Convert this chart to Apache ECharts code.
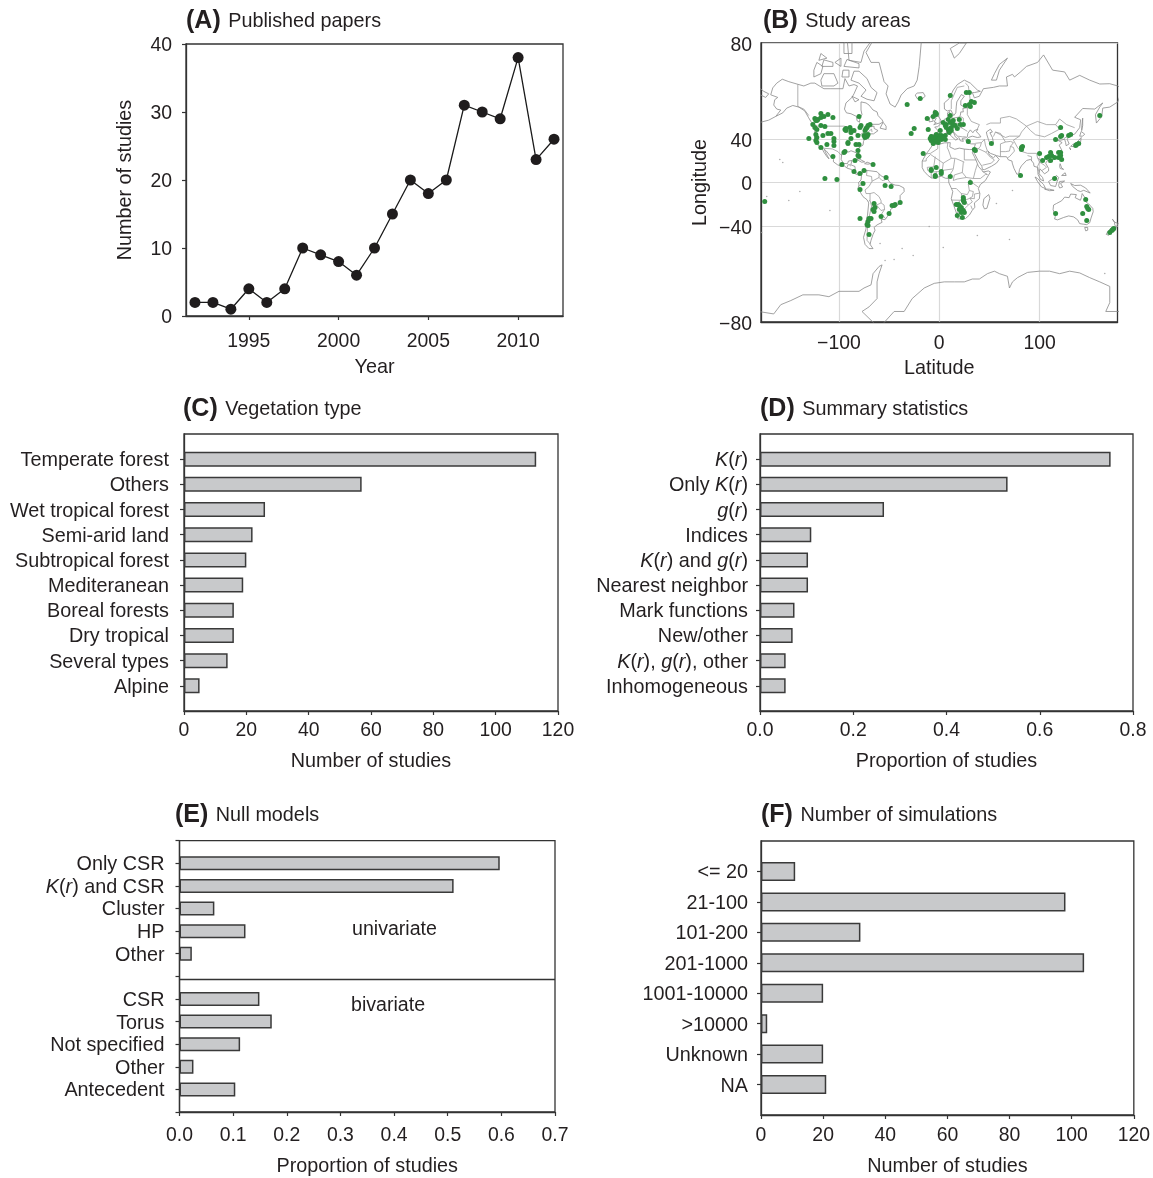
<!DOCTYPE html>
<html><head><meta charset="utf-8">
<style>html,body{margin:0;padding:0;background:#fff}#c{width:1153px;height:1178px}</style>
<script src="https://cdn.jsdelivr.net/npm/echarts@6/dist/echarts.min.js"></script>
</head><body><div id="c"></div>
<script>
// ---------- Panel A
const years=[1992,1993,1994,1995,1996,1997,1998,1999,2000,2001,2002,2003,2004,2005,2006,2007,2008,2009,2010,2011,2012];
const papers=[2,2,1,4,2,4,10,9,8,6,10,15,20,18,20,31,30,29,38,23,26];
const yearTicks=[1995,2000,2005,2010];
// ---------- Panel C
const vegNames=['','Temperate forest','Others','Wet tropical forest','Semi-arid land','Subtropical forest','Mediteranean','Boreal forests','Dry tropical','Several types','Alpine',''];
const vegValues=[null,113,57,26,22,20,19,16,16,14,5,null];
// ---------- Panel D
const statNames=['','K(r)','Only K(r)','g(r)','Indices','K(r) and g(r)','Nearest neighbor','Mark functions','New/other','K(r), g(r), other','Inhomogeneous',''];
const statValues=[null,.752,.531,.266,.110,.103,.103,.074,.070,.055,.055,null];
// ---------- Panel E
const nullNames=['','Only CSR','K(r) and CSR','Cluster','HP','Other','','CSR','Torus','Not specified','Other','Antecedent',''];
const nullValues=[null,.597,.511,.065,.123,.023,null,.149,.172,.113,.026,.104,null];
// ---------- Panel F
const simNames=['','<= 20','21-100','101-200','201-1000','1001-10000','>10000','Unknown','NA',''];
const simValues=[null,11,98,32,104,20,2,20,21,null];
// ---------- Panel B: map axes
const latTicks=[-80,-40,0,40,80];
const lonTicks=[-100,0,100];
// study sites: [longitude, Mercator-projected latitude in degrees of arc]
const sitesNorthAmerica=[[-124,64],[-123,62],[-121,63],[-118,69],[-122,62],[-118,65],[-115,66],[-111,68],[-106,65],[-114,56],[-118,57],[-124,55],[-126,58],[-122,53],[-123,48],[-122,45],[-130,44],[-123,42],[-122,40],[-116,47],[-111,49],[-108,49],[-105,44],[-105,41],[-105,37],[-112,38],[-118,35],[-94,53],[-93,52],[-88,52],[-85,52],[-88,44],[-91,39],[-95,30],[-80,66],[-78,57],[-79,55],[-81,47],[-71,57],[-69,58],[-73,54],[-74,52],[-71,48],[-72,46],[-75,47],[-81,32],[-83,38],[-80,38],[-81,27],[-84,22],[-106,26],[-97,18],[-66,18],[-75,12],[-85,11],[-79,9],[-88,50],[-89,55],[-93,54],[-73,47],[-74,45],[-72,55],[-80,26],[-94,31],[-91,40]];
const sitesOcean=[[-114,4],[-102,3],[-32,78],[-19,84],[-25,54],[-28,49],[-174,-19]];
const sitesEurope=[[-12,64],[-3,69],[-11,53],[-8,46],[-5,44],[-3,45],[0,47],[2,47],[6,47],[-8,42],[-4,41],[-1,43],[2,43],[6,43],[-9,44],[-3,48],[1,52],[-1,40],[-6,39],[-6,45],[-2,42],[0,44],[4,45],[4,60],[7,58],[11,60],[14,62],[9,63],[11,67],[6,57],[12,55],[16,57],[9,53],[12,52],[18,54],[24,58],[21,58],[20,63],[14,58],[7,55],[10,50],[-4,70],[-3,68],[-6,66],[11,87],[27,90],[30,90],[26,77],[31,76],[32,81],[35,80],[30,78],[29,41],[35,33],[36,32],[52,39]];
const sitesAsia=[[82,35],[82,33],[83,36],[81,7],[160,67],[121,55],[116,43],[121,46],[122,47],[129,47],[131,48],[136,37],[139,39],[137,38],[100,29],[119,30],[121,30],[109,26],[107,25],[111,30],[112,27],[115,25],[111,22],[103,22],[119,25],[122,23],[121,27],[115,4]];
const sitesAfrica=[[-16,29],[-8,13],[-4,6],[-3,15],[-8,12],[-4,7],[2,9],[2,11],[11,6],[31,0],[24,-15],[24,-17],[24,-18],[25,-20],[17,-22],[19,-22],[20,-23],[22,-25],[20,-27],[24,-28],[25,-30],[22,-30],[21,-26],[18,-33],[23,-35]];
const sitesOceania=[[146,-17],[147,-24],[148,-26],[149,-27],[143,-31],[116,-31],[147,-38],[170,-50],[172,-48],[174,-46],[173,-47]];
const sitesSouthAmerica=[[-53,5],[-54,-3],[-48,-4],[-79,-7],[-65,-21],[-64,-25],[-65,-29],[-66,-27],[-39,-20],[-44,-22],[-47,-23],[-45,-23],[-50,-31],[-58,-34],[-79,-36],[-70,-36],[-68,-36],[-71,-39],[-72,-42],[-71,-43],[-70,-52],[-76,-1]];
// small oceanic islands: [longitude, Mercator-projected latitude]
const specks=[[-139,-9],[-150,-18],[-109,-28],[-172,-14],[-177,-50],[-59,-61],[-37,-66],[-45,-77],[-54,-78],[-26,-73],[-10,-44],[70,-57],[38,-53],[57,-21],[73,-8],[4,-65],[165,-91],[-159,23],[-156,20]];
// coastlines and borders: [longitude, latitude]
const coastNorthAmerica=[[-168,65.6],[-166,68.3],[-162,70],[-156.5,71.3],[-150,70.5],[-141,69.6],[-135,69],[-128,70],[-124,70],[-115,68],[-108,68],[-100,68],[-96,68],[-94,71.5],[-90,69],[-85,69.5],[-81.5,69],[-85,66],[-87,64.5],[-93,62],[-94.5,59],[-92.5,57],[-88,56.5],[-82.5,55],[-82,52.5],[-79.5,51.5],[-79,54.5],[-77,56],[-78,58.5],[-78,62.5],[-73,62],[-70,61],[-66,58.5],[-62,57.5],[-61,55.5],[-57,53],[-56,51.7],[-60,50.2],[-66,50.2],[-69,48.5],[-65,49],[-65,47.5],[-61,46],[-65.5,43.7],[-70,43.7],[-70,41.7],[-74,40.5],[-75.5,38],[-76,35],[-78,34],[-81,32],[-80.2,27],[-80.5,25.2],[-81.8,26],[-82.8,28.5],[-84,30],[-88,30.3],[-90,29.2],[-94,29.5],[-97.3,27.5],[-97.8,22.5],[-95.5,18.8],[-91.5,18.5],[-90.5,21],[-87,21.5],[-88.2,17.5],[-88.5,15.9],[-84,15.8],[-83.3,14.9],[-83.7,11],[-82,9],[-79.7,9.5],[-77.3,8.6],[-78,8],[-80.2,7.3],[-83,8.3],[-85.7,10],[-87.5,13],[-91.5,14],[-94.5,16.2],[-97,15.8],[-101.5,17.5],[-105.5,20.3],[-105.5,22.5],[-109,26],[-112.5,30],[-114.7,31.5],[-112.5,27.5],[-109.9,23],[-112,25],[-115,29],[-117,32.5],[-120.5,34.5],[-122.5,37.8],[-124.3,40.3],[-124,46],[-122.7,48.5],[-125,50],[-128,52],[-130.5,54.5],[-134,58],[-140,60],[-146,60.8],[-152,59.5],[-156,57],[-163,55],[-158,58.5],[-162,59],[-165,61],[-164,63.5],[-161,64.5],[-168,65.6]];
const coastArcticIslands=[
[[-80,73.7],[-72,71.5],[-68,68.5],[-62,66.5],[-65,63],[-72,63.7],[-78,65],[-73,67.5],[-80,70],[-88,71],[-85,73.7],[-80,73.7]],
[[-117,69],[-105,69],[-101,70],[-105,73],[-115,73],[-118,71],[-117,69]],
[[-125,72],[-118,73],[-116,75],[-122,76],[-125,74],[-125,72]],
[[-90,76.5],[-78,76],[-75,78.5],[-65,81],[-62,83],[-80,83],[-92,81],[-90,76.5]],
[[-95,75],[-80,74.6],[-80,75.7],[-92,76.7],[-95,75]],
[[-117,75],[-106,75],[-106,76],[-115,76.6],[-117,75]],
[[-87,65],[-80,63.5],[-84,62.5],[-87,65]],
[[-97,72],[-90,72],[-90,74],[-96,74],[-97,72]],
[[-95,78],[-87,78],[-87,81],[-95,80],[-95,78]],
[[-104,76],[-98,75],[-98,77],[-104,76]],
[[-120,76.5],[-112,77],[-118,78],[-120,76.5]]];
const coastCaribbeanAtlantic=[
[[-59,47.7],[-53,46.7],[-53,49],[-56,51.5],[-59,47.7]],
[[-85,22],[-80,23],[-74.3,20.2],[-77.5,19.9],[-82,22.3],[-85,22]],
[[-74.4,18.5],[-72,20],[-68.4,18.6],[-71,18],[-74.4,18.5]],
[[-128,50.7],[-125,50],[-123.5,48.4],[-125,48.8],[-128,50.7]],
[[-163,55],[-170,52.8],[-178,51.5]],
[[-24,65.5],[-22,64],[-18,63.5],[-14,65],[-16,66.5],[-22,66.3],[-24,65.5]]];
const coastGreenland=[[-73,78.2],[-68,76],[-60,76],[-55,70.5],[-51,69],[-53,66],[-49,61.5],[-44,60],[-41,62.5],[-38,65.5],[-32,68],[-25,69],[-22,71],[-20,75],[-18,80],[-30,83.5],[-60,82],[-73,78.2]];
const coastSouthAmerica=[[-77.3,8.6],[-75,11],[-72,12],[-71.5,10.8],[-68,11.5],[-62,10.7],[-60,8.5],[-57,6],[-52,4.8],[-50,1],[-48,-1],[-44,-2.6],[-40,-3],[-35.2,-5.5],[-35,-9],[-39,-13],[-39,-18],[-41,-22],[-45,-23.7],[-48.5,-26],[-49,-29],[-52,-32.5],[-54,-34.8],[-58,-34.5],[-57,-37],[-62,-39],[-65,-41],[-64,-43],[-66,-46],[-68,-50],[-69,-52.5],[-66,-55],[-70,-55],[-74,-52.5],[-75.5,-48],[-73,-42],[-73.5,-38],[-71.5,-31],[-70.3,-20],[-72,-17],[-76,-14],[-81,-6],[-80,-2.5],[-80.5,0],[-78,2.5],[-77.5,7],[-77.3,8.6]];
const coastAfrica=[[-6,35.8],[-10,31],[-13,27.5],[-17,21],[-17,14.7],[-15,11],[-11,6.8],[-7.5,4.4],[-3,5],[2,6.3],[6,4.3],[9.5,4],[9.5,0],[11.7,-5],[13.5,-9],[12,-16],[14.5,-22.5],[17,-29],[18.5,-34.2],[22,-34],[26,-34],[30,-31],[32.8,-27],[35.5,-24],[35,-20],[40,-16],[40.5,-11],[39,-6],[41,-2],[46,2],[51,10.5],[49,11.5],[44,10.5],[43,12],[39,16],[37,21],[35,25],[33,28.5],[32.5,30],[34.2,31.3],[30,31.3],[25,31.7],[20,32.5],[20,31],[15.5,31.5],[10.5,33.5],[11,37],[5,36.8],[-1,35.5],[-6,35.8]];
const coastEurasia=[[-5.5,36],[-9,37],[-9.3,39],[-9,43],[-2,43.4],[-1.2,46],[-4.5,48.4],[-1.5,48.7],[1.5,50.5],[4,52],[5,53.3],[8.5,54],[8.2,57],[10.5,57.7],[10,55],[12,54],[14,54],[19,54.5],[21,55.5],[21.5,57.5],[24,57.5],[23.5,59.3],[28,59.7],[30,60],[25,60],[21.5,61],[21.5,63],[25,65],[22,65.7],[17.5,62.5],[17,60.5],[18.5,59.5],[16.5,57],[14.5,55.5],[12.8,55.5],[11.5,58.5],[8,58],[5.2,59],[5,62],[10,64],[14,67.5],[18,69.5],[25,71],[31,70],[38,67.5],[41,67],[35,66.5],[33,66.5],[35,64.3],[40,65],[44,68],[54,68.5],[60,69],[68,69],[67,72],[73,72.8],[75,72],[81,73.5],[87,75],[98,76],[104,77.7],[113,74],[125,73.5],[130,71],[140,72.5],[150,71],[160,69.7],[170,69.8],[178,69],[180,68.5],[180,65],[178,62.5],[170,60],[163,59.5],[162,55],[156.7,51],[155.7,56],[160,60],[163,62],[155,59],[143,59.3],[135,54.5],[141,53],[140,48],[135,43.5],[130.5,42.5],[127.5,39.7],[129.5,36],[126.5,34.5],[126,37],[125,39.7],[121.5,39],[118,39],[119,37.5],[122.5,37],[119.5,35],[122,31],[121.5,28],[117.5,24],[113,22],[110,21],[108,21.5],[106,19],[109,14],[109,11.5],[105,8.6],[105,10],[100.5,13.5],[99.3,9],[103,5],[104,1.5],[101,3],[98.5,8],[98,15],[94.5,16],[94,19],[91,22.5],[87,21.5],[82,16.5],[80,13],[79.5,9.5],[77.5,8],[74.5,14],[72.8,19],[72.5,21],[69,22],[67,25],[61,25],[57,26],[56.5,27],[51,28],[48.5,30],[48,29.5],[50,26.5],[51.5,25],[54,24],[56.3,26],[56.5,24.5],[59.8,22.5],[57,19],[52,16],[45,12.7],[43,13],[42.5,16],[39,21],[35,28],[34.5,31.5],[36,36],[32,36],[28,36.7],[26.5,39],[29,41],[33,42],[38,41],[41.5,41.5],[39,44],[37,45.2],[38.5,47],[35,46],[33.5,44.5],[31,46.5],[28.5,44],[28,41.5],[26,40.7],[23,40.3],[24,38],[22.5,36.5],[21,38.5],[19.5,41],[19,42],[14,45.2],[12.5,45],[12.5,44],[16,41.5],[18.5,40],[16.5,39],[15.7,38],[15.5,40],[12,42],[9,44.3],[5,43.3],[3,43],[3,41.8],[0,39.5],[-2,37],[-5.5,36]];
const coastChukotka=[[-180,68.5],[-175,67],[-170,66],[-173,64.5],[-178,65.5],[-180,65]];
const coastEurasiaIslands=[
[[47,45],[51,47],[53,45],[50.5,44.5],[53,41],[54,37],[50,37.3],[49,39.5],[47.5,43],[47,45]],
[[-5.5,50],[1.3,51.2],[1.7,52.8],[0,53.5],[-2,56],[-2,57.7],[-5,58.6],[-6,56.5],[-3,54],[-4.5,53.2],[-5,51.7],[-3,51.3],[-5.5,50]],
[[-6,52.2],[-10,51.7],[-10,54],[-7.5,55.3],[-5.7,54.5],[-6,52.2]],
[[15,77],[11,79],[20,80],[27,80],[20,78],[15,77]],
[[52,71],[55,73],[60,75.5],[68,77],[60,74],[57,71],[52,71]],
[[142,46],[143,49.5],[143,54],[142,53],[142,48],[142,46]],
[[131,34],[135,33.7],[140,35],[141,38],[141.5,41],[140,40],[137,37],[133,35.5],[131,34]],
[[140,42],[141.5,45.4],[145,43.5],[143,42],[140,42]],
[[130,33],[131.5,33],[131,31],[130,32],[130,33]],
[[120,23],[121.5,25],[121,22],[120,23]],
[[109,20],[111,20],[110,18.3],[109,20]],
[[80,9.5],[82,7.5],[80.5,6],[80,9.5]],
[[120.5,18.5],[122.2,18],[122,14.5],[124,13],[120.7,13.8],[120,16],[120.5,18.5]],
[[122,7],[125.5,9.7],[126.5,7],[125,5.7],[122,7]],
[[109,1],[112,3],[117,7],[119,5],[117.5,1],[116,-4],[111,-3],[109,1]],
[[95.5,5.5],[98,4],[104,-2],[106,-6],[102,-4.5],[98,1],[95.5,5.5]],
[[105,-6.5],[110,-6.7],[114.5,-7.8],[110,-8.2],[105,-6.5]],
[[120,1],[125,1.5],[121,-1],[123,-4.5],[120,-5.5],[119,-3],[120,1]],
[[131,-1],[135,-3],[141,-2.7],[146,-5.5],[150.5,-10.5],[144,-7.8],[141,-9],[138,-8],[133,-4],[131,-1]],
[[49.3,-12],[50.5,-15.5],[47.5,-25],[45,-25.5],[43.5,-22],[44.5,-16],[49.3,-12]]];
const coastAustralasia=[
[[114,-22],[113.5,-26],[115.7,-32],[115,-34.3],[118,-35],[124,-33],[129,-31.7],[134,-32.5],[138,-35],[140,-38],[144,-38.5],[147,-38.8],[150,-37.3],[151.3,-33.5],[153.5,-28],[153,-25],[149,-21],[146,-19],[145.3,-15],[142.5,-11],[141.7,-15],[140.7,-17.5],[135.5,-15],[136.7,-12],[131,-11.5],[129.5,-15],[125,-14.5],[122,-18],[117,-20.5],[114,-22]],
[[145,-41],[148,-41],[148,-43],[146,-43.5],[145,-41]],
[[172.7,-34.5],[175,-37],[178.4,-37.7],[176.5,-41],[174.8,-41.3],[175,-39],[173.8,-39.2],[174.7,-37],[172.7,-34.5]],
[[172.7,-40.5],[174.3,-41.7],[171,-45],[169,-46.6],[166.5,-46],[168,-44],[172.7,-40.5]]];
const coastAntarctica=[[-180,-78],[-165,-78.5],[-158,-76.5],[-148,-75.5],[-136,-74],[-120,-74],[-110,-74.5],[-100,-73],[-90,-73],[-80,-73],[-75,-72],[-68,-71],[-66,-67],[-60,-64],[-57,-63.3],[-60,-67],[-62,-70],[-62,-75],[-70,-77],[-77,-78],[-60,-81],[-45,-78],[-35,-78],[-27,-75],[-15,-72],[-5,-70.5],[5,-70],[15,-70],[25,-70],[33,-69],[40,-69],[48,-67],[55,-66],[60,-67],[68,-68],[70,-72],[73,-70],[78,-68.5],[88,-66.5],[100,-66],[110,-66],[120,-67],[130,-66],[140,-66.7],[150,-68.5],[160,-70],[170,-71.5],[170,-76],[166,-78],[180,-78]];
const bordersAmericas=[
[[-123,49],[-95,49],[-89,48],[-84,46.5],[-82.5,43],[-79,43],[-75,45],[-71,45],[-67.5,47],[-67,45]],
[[-141,69.6],[-141,60.3],[-135,59],[-130,55.5]],
[[-117,32.5],[-106.5,31.8],[-101,29.5],[-97.3,26]],
[[-92,14.5],[-91,17.5],[-89,17.5],[-88.5,16]],
[[-72,12],[-72.5,7],[-67.5,6],[-67,1.3],[-70,-4],[-74,-7.5],[-73,-11],[-69,-11],[-65,-10],[-60,-14],[-58,-18],[-58,-20],[-55,-22],[-54.5,-26],[-57.5,-30],[-53.5,-34]],
[[-69,-11],[-69,-17.5],[-70.3,-18.5]],
[[-69,-17.5],[-67.5,-23],[-70,-33],[-71.5,-40],[-72,-50],[-68.5,-52.5]],
[[-67.5,-23],[-62.5,-22],[-58,-27],[-54.5,-26]],
[[-62.5,-22],[-58,-20]],
[[-80,-3.5],[-75,-1],[-78.5,1.5]],
[[-60,8.5],[-60,5],[-57,2],[-54,2.5],[-52,4.5]],
[[-67,1.3],[-60,5]]];
const bordersAfrica=[
[[-1.5,35],[-1.5,32],[-8.7,28],[-8.7,27],[-13,27.5]],
[[-8.7,27],[4,19],[12,23.5],[9.5,30],[8,33],[8.5,37]],
[[-17,21],[-13,21],[-13,23],[-8.7,27]],
[[25,31.7],[25,22],[37,22]],
[[25,20],[16,23.5],[12,23.5]],
[[24,20],[23,10],[27,5],[34,4],[36,12],[38,18]],
[[4,19],[3,12],[14,13.5],[15.5,23]],
[[-12,15],[-5.5,15.5],[-4,25]],
[[-12,15],[-11.5,12],[-8,10],[-8,4.5]],
[[-5.5,10.5],[3,11],[2.5,6.3]],
[[-3,5],[-3,11]],
[[1,6],[1,11]],
[[14,13],[8.5,4.5]],
[[15,7.5],[23,10]],
[[15,7.5],[14,2],[18,3.5],[27,5]],
[[12,-6],[17,-6],[22,-11],[28,-12],[30,-8],[29,-2],[31,3.5]],
[[30,-1],[34,-1],[39,-4.7]],
[[34,4],[41,4],[46,8],[48,8],[43,11]],
[[12,-17.3],[23,-17.5],[22,-11]],
[[20,-18],[20,-28.5],[17,-28.7]],
[[20,-22],[25,-25.5],[29,-22],[25,-17.8]],
[[29,-22],[33,-19],[30.5,-15.5],[25,-17.8]],
[[33,-26],[31.5,-22.5]],
[[30.5,-15.5],[35,-16],[35,-11.5],[40.5,-10.5]],
[[30,-8],[34,-9],[33,-14],[30.5,-15.5]]];
const bordersEurasia=[
[[36,36.5],[42,37],[45,39.5]],
[[42,37],[41,34],[39,32],[36,32.5]],
[[39,32],[46.5,29],[48,30]],
[[45,39.5],[46,35],[48,30]],
[[61,25],[61,36],[66,37.5],[71,38],[74,37],[71,34],[70,30],[66,29.5],[61,29.5]],
[[46.5,29],[51,24.5],[55,22],[52,19],[43,17]],
[[54,41.7],[56,45],[61,44],[66,37.5]],
[[47,50],[51,51],[61,51],[61,54],[70,55],[77,53.5],[87,49],[82,45],[80,42],[70,42],[66,41],[56,45]],
[[87,49],[98,52],[107,50],[116,50],[120,47],[112,44],[105,41.5],[96,43],[91,46],[87,49]],
[[135,48],[127,50],[120,53.5],[116,50]],
[[130.5,42.5],[127,41.5],[124,40]],
[[80,42],[74,39],[78,33],[81,30],[88,28],[97,28],[98,24],[101,21.5],[106,23],[108,21.5]],
[[71,34],[74,33],[75,30],[70,25],[68,24]],
[[88,26],[92,25],[92,21]],
[[98,24],[100,20],[98,16],[99,11]],
[[100,20],[105,17],[107,15],[102.5,12]],
[[-1.5,43.3],[3,42.5]],
[[2.5,51],[6,49.5],[8,49],[7.5,47.5],[7,44]],
[[14,54],[15,51],[24,50.5],[24,54],[21,55]],
[[28,59.7],[28,56],[32,52],[40,50],[38,47]],
[[28,60.5],[31,63],[29,69],[26,70]],
[[12,59],[12,63],[18,68.5],[25,69]],
[[7,44],[7.5,46],[13.5,46.5]],
[[8,47.5],[17,48],[23,48]],
[[19,42],[23,41.5],[26.5,41.5]],
[[22,48],[28,45.5]],
[[24,50.5],[22,48]]];

// ---------- drawing
const FONT='Liberation Sans', INK='#231f20', FRAME='#333333', FS=19.4, FSN=19.8;
const merc=lat=>Math.log(Math.tan(Math.PI/4+lat*Math.PI/360))*180/Math.PI;
const invMerc=y=>(2*Math.atan(Math.exp(y*Math.PI/180))-Math.PI/2)*180/Math.PI;
const project=line=>line.map(p=>[p[0],merc(p[1])]);
const join=lines=>{const out=[];lines.forEach(l=>{project(l).forEach(p=>out.push(p));out.push([NaN,NaN]);});return out;};
const minus=v=>String(v).replace('-','\u2212');
const italicise=s=>s.replace(/\b(K|g)\(r\)/g,'{i|$1}({i|r})');
const richItalic={i:{fontStyle:'italic',fontFamily:FONT,fontSize:FSN,color:INK}};

const boxes=[
 {left:186,top:44,width:377,height:272},
 {left:761,top:43,width:356.5,height:279},
 {left:184,top:434,width:374,height:277},
 {left:760,top:434,width:373,height:277},
 {left:179.5,top:840.7,width:375.5,height:273.3},
 {left:761,top:841,width:373,height:276}];
const heads=[['(A)','Published papers',186,9],['(B)','Study areas',763,9],['(C)','Vegetation type',183,397],['(D)','Summary statistics',760,397],['(E)','Null models',175,803],['(F)','Number of simulations',761,803]];
const axisLine={show:true,onZero:false,lineStyle:{color:FRAME,width:1.3}};
const tick=(extra)=>Object.assign({show:true,length:4,inside:false,lineStyle:{color:FRAME,width:1.2}},extra||{});
const nameStyle={fontSize:FSN,color:INK,fontFamily:FONT};
const valX=(g,max,interval,name,gap,margin,digits)=>({type:'value',gridIndex:g,min:0,max,interval,name,nameLocation:'middle',nameGap:gap,
  nameTextStyle:nameStyle,axisLine,axisTick:tick(),splitLine:{show:false},
  axisLabel:{fontSize:FS,color:INK,fontFamily:FONT,margin,formatter:v=>digits?v.toFixed(digits):String(v)}});
const catY=(g,names,margin,allTicks)=>({type:'category',gridIndex:g,data:names,inverse:true,boundaryGap:false,axisLine,
  axisTick:tick({alignWithLabel:true,interval:allTicks?0:((i,v)=>v!=='')}),splitLine:{show:false},
  axisLabel:{interval:0,fontSize:FSN,color:INK,fontFamily:FONT,margin,padding:[3,0,0,0],rich:richItalic,formatter:v=>italicise(v)}});
const bar=(g,values,w,extra)=>Object.assign({type:'bar',xAxisIndex:g,yAxisIndex:g,data:values,barWidth:w,silent:true,
  itemStyle:{color:'#c8c9cb',borderColor:'#3a3a3a',borderWidth:1.5}},extra||{});
const sites=[].concat(sitesNorthAmerica,sitesOcean,sitesEurope,sitesAsia,sitesAfrica,sitesOceania,sitesSouthAmerica);
const coastLines=[coastNorthAmerica,coastGreenland,coastSouthAmerica,coastAfrica,coastEurasia,coastChukotka,coastAntarctica].concat(coastArcticIslands,coastCaribbeanAtlantic,coastEurasiaIslands,coastAustralasia);
const borderLines=[].concat(bordersAmericas,bordersAfrica,bordersEurasia);

const option={
 animation:false,backgroundColor:'#fff',textStyle:{fontFamily:FONT},
 title:heads.map(h=>({left:h[2],top:h[3],padding:0,text:'{b|'+h[0]+'}{n| '+h[1]+'}',textStyle:{fontWeight:'normal',rich:{
   b:{fontFamily:FONT,fontWeight:'bold',fontSize:25,color:INK},
   n:{fontFamily:FONT,fontWeight:'normal',fontSize:FSN,color:INK,padding:[0,0,0,2]}}}})),
 grid:boxes.map(b=>Object.assign({show:true,borderColor:FRAME,borderWidth:1.3,containLabel:false},b)),
 graphic:[
  {type:'text',left:352,top:920,style:{text:'univariate',font:'19.6px "Liberation Sans"',fill:INK}},
  {type:'text',left:351,top:996,style:{text:'bivariate',font:'19.6px "Liberation Sans"',fill:INK}}],
 xAxis:[
  {type:'value',gridIndex:0,min:1991.5,max:2012.5,name:'Year',nameLocation:'middle',nameGap:42,
   nameTextStyle:nameStyle,axisLine,splitLine:{show:false},
   axisTick:tick({customValues:yearTicks}),
   axisLabel:{fontSize:FS,color:INK,fontFamily:FONT,margin:16,customValues:yearTicks,formatter:v=>String(v)}},
  {type:'value',gridIndex:1,min:-177.7,max:177.7,name:'Latitude',nameLocation:'middle',nameGap:37,
   nameTextStyle:nameStyle,axisLine,
   axisTick:{show:false,customValues:lonTicks},
   splitLine:{show:true,lineStyle:{color:'#d9d9d9',width:1.2}},
   axisLabel:{fontSize:FS,color:INK,fontFamily:FONT,margin:12,customValues:lonTicks,formatter:v=>minus(v)}},
  valX(2,120,20,'Number of studies',41,10,0),
  valX(3,0.8,0.2,'Proportion of studies',41,10,1),
  valX(4,0.7,0.1,'Proportion of studies',45,14,1),
  valX(5,120,20,'Number of studies',42,11,0)],
 yAxis:[
  {type:'value',gridIndex:0,min:0,max:40,interval:10,name:'Number of studies',nameLocation:'middle',nameGap:50,
   nameTextStyle:nameStyle,axisLine,axisTick:tick(),splitLine:{show:false},
   axisLabel:{fontSize:FS,color:INK,fontFamily:FONT,margin:14,padding:[4,0,0,0],rich:richItalic}},
  {type:'value',gridIndex:1,min:merc(-80),max:merc(80),name:'Longitude',nameLocation:'middle',nameGap:50,
   nameTextStyle:nameStyle,axisLine,
   axisTick:{show:false,customValues:latTicks.map(merc)},
   splitLine:{show:true,lineStyle:{color:'#d9d9d9',width:1.2}},
   axisLabel:{fontSize:FS,color:INK,fontFamily:FONT,margin:9,padding:[5,0,0,0],rich:richItalic,customValues:latTicks.map(merc),formatter:v=>minus(Math.round(invMerc(v)))}},
  catY(2,vegNames,15),
  catY(3,statNames,12),
  catY(4,nullNames,15,true),
  catY(5,simNames,13)],
 series:[
  {type:'line',xAxisIndex:0,yAxisIndex:0,data:years.map((y,i)=>[y,papers[i]]),symbol:'circle',symbolSize:11,showSymbol:true,silent:true,
   lineStyle:{color:'#1a1a1a',width:1.3},itemStyle:{color:'#1f1c1d'}},
  {type:'line',xAxisIndex:1,yAxisIndex:1,data:join(coastLines),showSymbol:false,symbol:'none',silent:true,clip:true,connectNulls:false,lineStyle:{color:'#8a8a8a',width:.8},z:2},
  {type:'line',xAxisIndex:1,yAxisIndex:1,data:join(borderLines),showSymbol:false,symbol:'none',silent:true,clip:true,connectNulls:false,lineStyle:{color:'#8f8f8f',width:.7},z:2},
  {type:'scatter',xAxisIndex:1,yAxisIndex:1,data:specks,symbolSize:1.6,silent:true,itemStyle:{color:'#999'},z:2},
  {type:'scatter',xAxisIndex:1,yAxisIndex:1,data:sites,symbolSize:5,silent:true,itemStyle:{color:'#2f8f3f',opacity:1},z:3},
  bar(2,vegValues,15),
  bar(3,statValues,15),
  bar(4,nullValues,14,{markLine:{silent:true,symbol:'none',label:{show:false},lineStyle:{color:FRAME,width:1.3,type:'solid'},data:[[{x:179.5,y:979},{x:555,y:979}]],animation:false}}),
  bar(5,simValues,19)]
};
const chart=echarts.init(document.getElementById('c'),null,{renderer:'canvas',width:1153,height:1178});
chart.setOption(option);
</script></body></html>
